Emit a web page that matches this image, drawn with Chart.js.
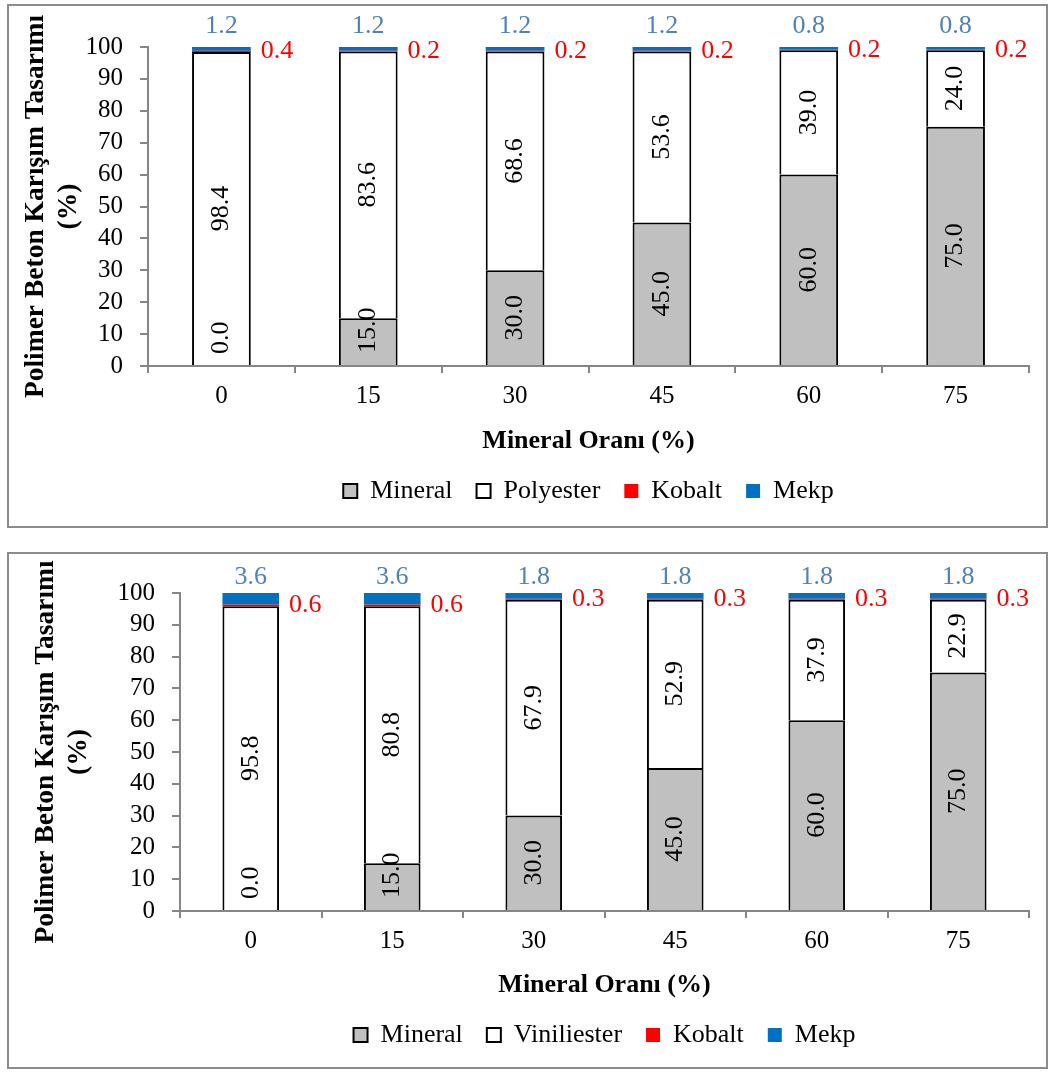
<!DOCTYPE html>
<html lang="tr">
<head>
<meta charset="utf-8">
<title>Polimer Beton Karışım Tasarımı</title>
<script src="https://cdn.jsdelivr.net/npm/chart.js@4.4.1/dist/chart.umd.min.js"></script>
<style>
  html, body { margin: 0; padding: 0; background: #ffffff; }
  body { position: relative; width: 1051px; height: 1072px; overflow: hidden; }
  .panel { position: absolute; left: 7px; width: 1037px; border: 2px solid #8c8c8c; background: #fff; }
  #panelTop { top: 4px; height: 520px; }
  #panelBottom { top: 552px; height: 513px; }
  canvas { display: block; }
</style>
</head>
<body>
<div class="panel" id="panelTop"><canvas id="chartPolyester" width="1037" height="520"></canvas></div>
<div class="panel" id="panelBottom"><canvas id="chartViniliester" width="1037" height="513"></canvas></div>
<script>
// Mineral ratio categories (x axis)
const categories = ['0', '15', '30', '45', '60', '75'];

// Polyester-based mix (%)
const mineralP   = [0.0, 15.0, 30.0, 45.0, 60.0, 75.0];
const polyester  = [98.4, 83.6, 68.6, 53.6, 39.0, 24.0];
const kobaltP    = [0.4, 0.2, 0.2, 0.2, 0.2, 0.2];
const mekpP      = [1.2, 1.2, 1.2, 1.2, 0.8, 0.8];

// Vinylester-based mix (%)
const mineralV    = [0.0, 15.0, 30.0, 45.0, 60.0, 75.0];
const viniliester = [95.8, 80.8, 67.9, 52.9, 37.9, 22.9];
const kobaltV     = [0.6, 0.6, 0.3, 0.3, 0.3, 0.3];
const mekpV       = [3.6, 3.6, 1.8, 1.8, 1.8, 1.8];

const SERIF = '"Liberation Serif", "Times New Roman", serif';
const AXIS_GREY = '#868686';
Chart.defaults.font.family = SERIF;
Chart.defaults.color = '#000000';

// Value labels: rotated inside the segment, to the right of it, or above the stack
const segmentLabels = {
  id: 'segmentLabels',
  afterDatasetsDraw(chart, args, opts) {
    const ctx = chart.ctx;
    ctx.save();
    chart.data.datasets.forEach((ds, i) => {
      const meta = chart.getDatasetMeta(i);
      if (meta.hidden) return;
      meta.data.forEach((bar, j) => {
        const p = bar.getProps(['x', 'y', 'base', 'width'], true);
        const text = Number(ds.data[j]).toFixed(1);
        if (ds.labelKind === 'inside') {
          ctx.font = '26px ' + SERIF;
          ctx.fillStyle = '#000000';
          const half = ctx.measureText(text).width / 2;
          let cy = (p.y + p.base) / 2;
          cy = Math.min(cy, p.base - half - 12);
          ctx.save();
          ctx.translate(p.x, cy);
          ctx.rotate(-Math.PI / 2);
          ctx.textAlign = 'center';
          ctx.textBaseline = 'middle';
          ctx.fillText(text, 0, 0);
          ctx.restore();
        } else if (ds.labelKind === 'right') {
          ctx.font = '26px ' + SERIF;
          ctx.fillStyle = '#ff0000';
          ctx.textAlign = 'left';
          ctx.textBaseline = 'middle';
          ctx.fillText(text, p.x + p.width / 2 + 10, (p.y + p.base) / 2);
        } else if (ds.labelKind === 'above') {
          ctx.font = '26px ' + SERIF;
          ctx.fillStyle = '#4f81bd';
          ctx.textAlign = 'center';
          ctx.textBaseline = 'alphabetic';
          ctx.fillText(text, p.x, p.y - opts.aboveGap);
        }
      });
    });
    ctx.restore();
  }
};

function buildChart(canvasId, resinName, mineral, resin, kobalt, mekp, geo) {
  const ctx = document.getElementById(canvasId).getContext('2d');
  return new Chart(ctx, {
    type: 'bar',
    data: {
      labels: categories,
      datasets: [
        { label: 'Mineral', data: mineral, backgroundColor: '#c0c0c0', borderColor: '#000000',
          borderWidth: 2, borderSkipped: 'start', labelKind: 'inside' },
        { label: resinName, data: resin, backgroundColor: '#ffffff', borderColor: '#000000',
          borderWidth: 2, borderSkipped: 'start', labelKind: 'inside' },
        { label: 'Kobalt', data: kobalt, backgroundColor: '#ff0000', borderWidth: 0, labelKind: 'right' },
        { label: 'Mekp', data: mekp, backgroundColor: '#0070c0', borderWidth: 0, labelKind: 'above' }
      ]
    },
    options: {
      responsive: false,
      animation: false,
      devicePixelRatio: 1,
      barPercentage: 0.4,
      categoryPercentage: 1.0,
      layout: { padding: { top: geo.padTop, right: 17, bottom: geo.padBottom, left: 0 } },
      plugins: {
        tooltip: { enabled: false },
        segmentLabels: { aboveGap: geo.aboveGap },
        legend: {
          position: 'bottom',
          fullSize: false,
          labels: {
            boxWidth: 14,
            boxHeight: 14,
            padding: 24,
            color: '#000000',
            font: { size: 26, family: SERIF }
          }
        }
      },
      scales: {
        x: {
          stacked: true,
          grid: { display: true, drawOnChartArea: false, drawTicks: true, tickLength: 7,
                  color: AXIS_GREY, lineWidth: 2, offset: true },
          border: { display: true, color: AXIS_GREY, width: 2 },
          ticks: { font: { size: 25 }, color: '#000000', padding: 8, maxRotation: 0, autoSkip: false },
          title: { display: true, text: 'Mineral Oranı (%)', color: '#000000',
                   font: { size: 26, weight: 'bold', lineHeight: 1 }, padding: { top: 0, bottom: 0 } },
          afterFit(scale) { scale.height = geo.xHeight; }
        },
        y: {
          stacked: true,
          min: 0,
          max: 100,
          grid: { display: true, drawOnChartArea: false, drawTicks: true, tickLength: 8,
                  color: AXIS_GREY, lineWidth: 2 },
          border: { display: true, color: AXIS_GREY, width: 2 },
          ticks: { stepSize: 10, autoSkip: false, font: { size: 25 }, color: '#000000', padding: 17 },
          title: { display: true, text: ['Polimer Beton Karışım Tasarımı', '(%)'], color: '#000000',
                   font: { size: 27.5, weight: 'bold', lineHeight: 1.2 },
                   padding: { top: geo.yTitlePad, bottom: 0 } },
          afterFit(scale) { scale.width = geo.yWidth; }
        }
      }
    },
    plugins: [segmentLabels]
  });
}

buildChart('chartPolyester', 'Polyester', mineralP, polyester, kobaltP, mekpP,
  { padTop: 41, padBottom: 12, xHeight: 88, yWidth: 139, yTitlePad: 10, aboveGap: 14 });

buildChart('chartViniliester', 'Viniliester', mineralV, viniliester, kobaltV, mekpV,
  { padTop: 39, padBottom: 9, xHeight: 87, yWidth: 171, yTitlePad: 20, aboveGap: 9 });
</script>
</body>
</html>
